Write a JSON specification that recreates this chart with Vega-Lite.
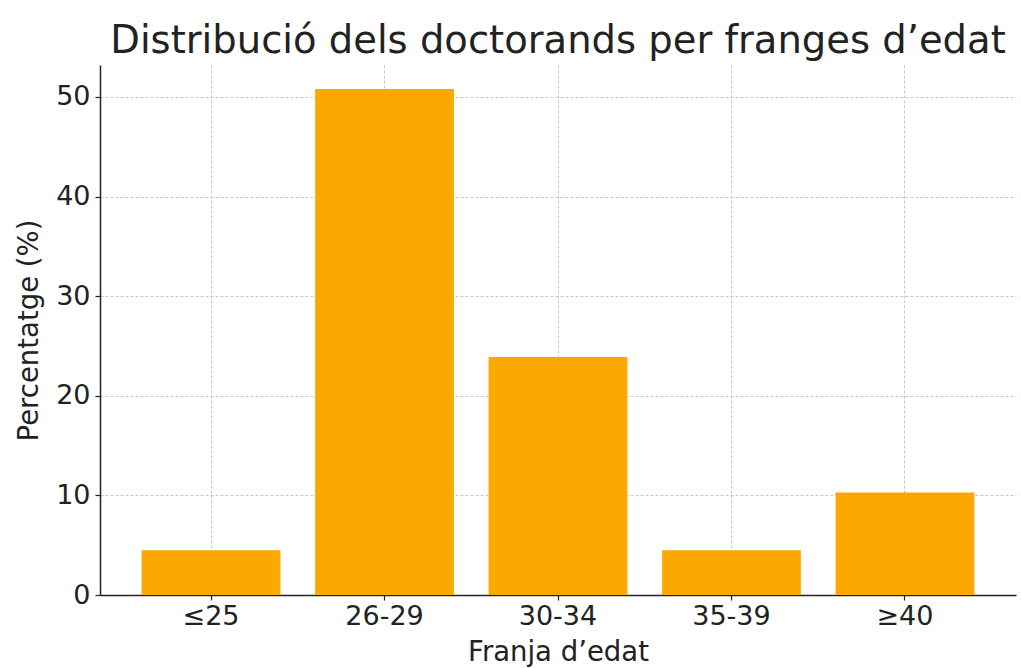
{
  "$schema": "https://vega.github.io/schema/vega-lite/v6.json",
  "autosize": {"type": "none"},
  "padding": {"left": 100, "top": 65, "right": 5, "bottom": 73},
  "width": 916,
  "height": 530,
  "background": "white",
  "title": {
    "text": "Distribució dels doctorands per franges d’edat",
    "font": "DejaVu Sans",
    "fontSize": 38.5,
    "fontWeight": "normal",
    "color": "#222222",
    "anchor": "middle",
    "offset": 4
  },
  "config": {
    "view": {"stroke": null},
    "font": "DejaVu Sans"
  },
  "data": {
    "values": [
      {"franja": "≤25", "pct": 4.5},
      {"franja": "26-29", "pct": 50.8},
      {"franja": "30-34", "pct": 23.9},
      {"franja": "35-39", "pct": 4.5},
      {"franja": "≥40", "pct": 10.3}
    ]
  },
  "mark": {"type": "bar", "color": "#FCA800"},
  "encoding": {
    "x": {
      "field": "franja",
      "type": "nominal",
      "sort": null,
      "scale": {"paddingInner": 0.2, "paddingOuter": 0.24},
      "axis": {
        "title": "Franja d’edat",
        "titleFont": "DejaVu Sans",
        "titleFontSize": 27.5,
        "titleFontWeight": "normal",
        "titleColor": "#222222",
        "titlePadding": 9,
        "labelAngle": 0,
        "labelFontSize": 27,
        "labelColor": "#222222",
        "labelPadding": 3,
        "bandPosition": 0.5,
        "grid": true,
        "gridColor": "#c8c8c8",
        "gridDash": [3, 2],
        "gridWidth": 1,
        "domainColor": "#222222",
        "domainWidth": 1.5,
        "tickColor": "#222222",
        "tickSize": 5,
        "tickWidth": 1.2
      }
    },
    "y": {
      "field": "pct",
      "type": "quantitative",
      "scale": {"domain": [0, 53.2], "nice": false},
      "axis": {
        "title": "Percentatge (%)",
        "titleFont": "DejaVu Sans",
        "titleFontSize": 27.5,
        "titleFontWeight": "normal",
        "titleColor": "#222222",
        "titlePadding": 12,
        "values": [0, 10, 20, 30, 40, 50],
        "labelFontSize": 27,
        "labelColor": "#222222",
        "labelPadding": 5,
        "grid": true,
        "gridColor": "#c8c8c8",
        "gridDash": [3, 2],
        "gridWidth": 1,
        "domainColor": "#222222",
        "domainWidth": 1.5,
        "tickColor": "#222222",
        "tickSize": 5,
        "tickWidth": 1.2
      }
    }
  }
}
